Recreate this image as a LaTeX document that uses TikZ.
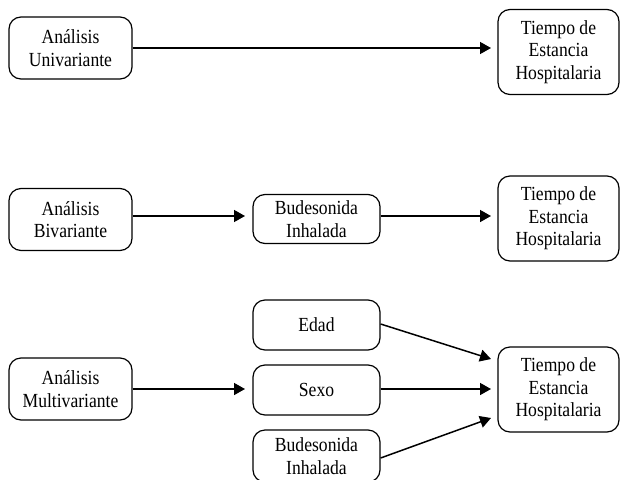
\documentclass[tikz,border=0pt]{standalone}
\usepackage{fontspec}
\setmainfont{Liberation Serif}[FakeStretch=0.88]
\usetikzlibrary{arrows.meta}
\begin{document}
\begin{tikzpicture}[x=1pt,y=-1pt,
  box/.style={draw, line width=1.2pt, rounded corners=12pt, inner sep=0pt, align=center,
    font=\fontsize{20}{22.5}\selectfont},
  srcbox/.style={box, minimum width=123pt, minimum height=62pt},
  tgtbox/.style={box, minimum width=121pt, minimum height=85pt},
  midbox/.style={box, minimum width=127pt, minimum height=49pt},
  conn/.style={line width=1.5pt, -{Triangle[length=11pt,width=12pt]}}
]
\useasboundingbox (0,0) rectangle (620,479);
% row 1
\node[srcbox] (a1) at (70.5,48) {Análisis\\Univariante};
\node[tgtbox] (t1) at (558.5,52) {Tiempo de\\Estancia\\Hospitalaria};
% row 2
\node[srcbox] (a2) at (70.5,219.5) {Análisis\\Bivariante};
\node[midbox] (b2) at (316.5,219) {Budesonida\\Inhalada};
\node[tgtbox] (t2) at (558.5,218.5) {Tiempo de\\Estancia\\Hospitalaria};
% row 3
\node[srcbox] (a3) at (70.5,389) {Análisis\\Multivariante};
\node[midbox, minimum height=50pt] (e3) at (316.5,325) {Edad};
\node[midbox, minimum height=50pt] (s3) at (316.5,390) {Sexo};
\node[midbox, minimum height=52pt] (b3) at (316.5,456) {Budesonida\\Inhalada};
\node[tgtbox] (t3) at (558.5,389.5) {Tiempo de\\Estancia\\Hospitalaria};
\coordinate (p1) at (491,48);
\coordinate (p2) at (245,216);
\coordinate (p3) at (491,216);
\coordinate (p4) at (245,389);
\coordinate (q1) at (491,359);
\coordinate (q2) at (491,389);
\coordinate (q3) at (491,418);
\draw[conn] (a1.east |- p1) -- (p1);
\draw[conn] (a2.east |- p2) -- (p2);
\draw[conn] (b2.east |- p3) -- (p3);
\draw[conn] (a3.east |- p4) -- (p4);
\draw[conn] ([yshift=1pt]e3.east) -- (q1);
\draw[conn] (s3.east |- q2) -- (q2);
\draw[conn] ([yshift=-2pt]b3.east) -- (q3);
\end{tikzpicture}
\end{document}
